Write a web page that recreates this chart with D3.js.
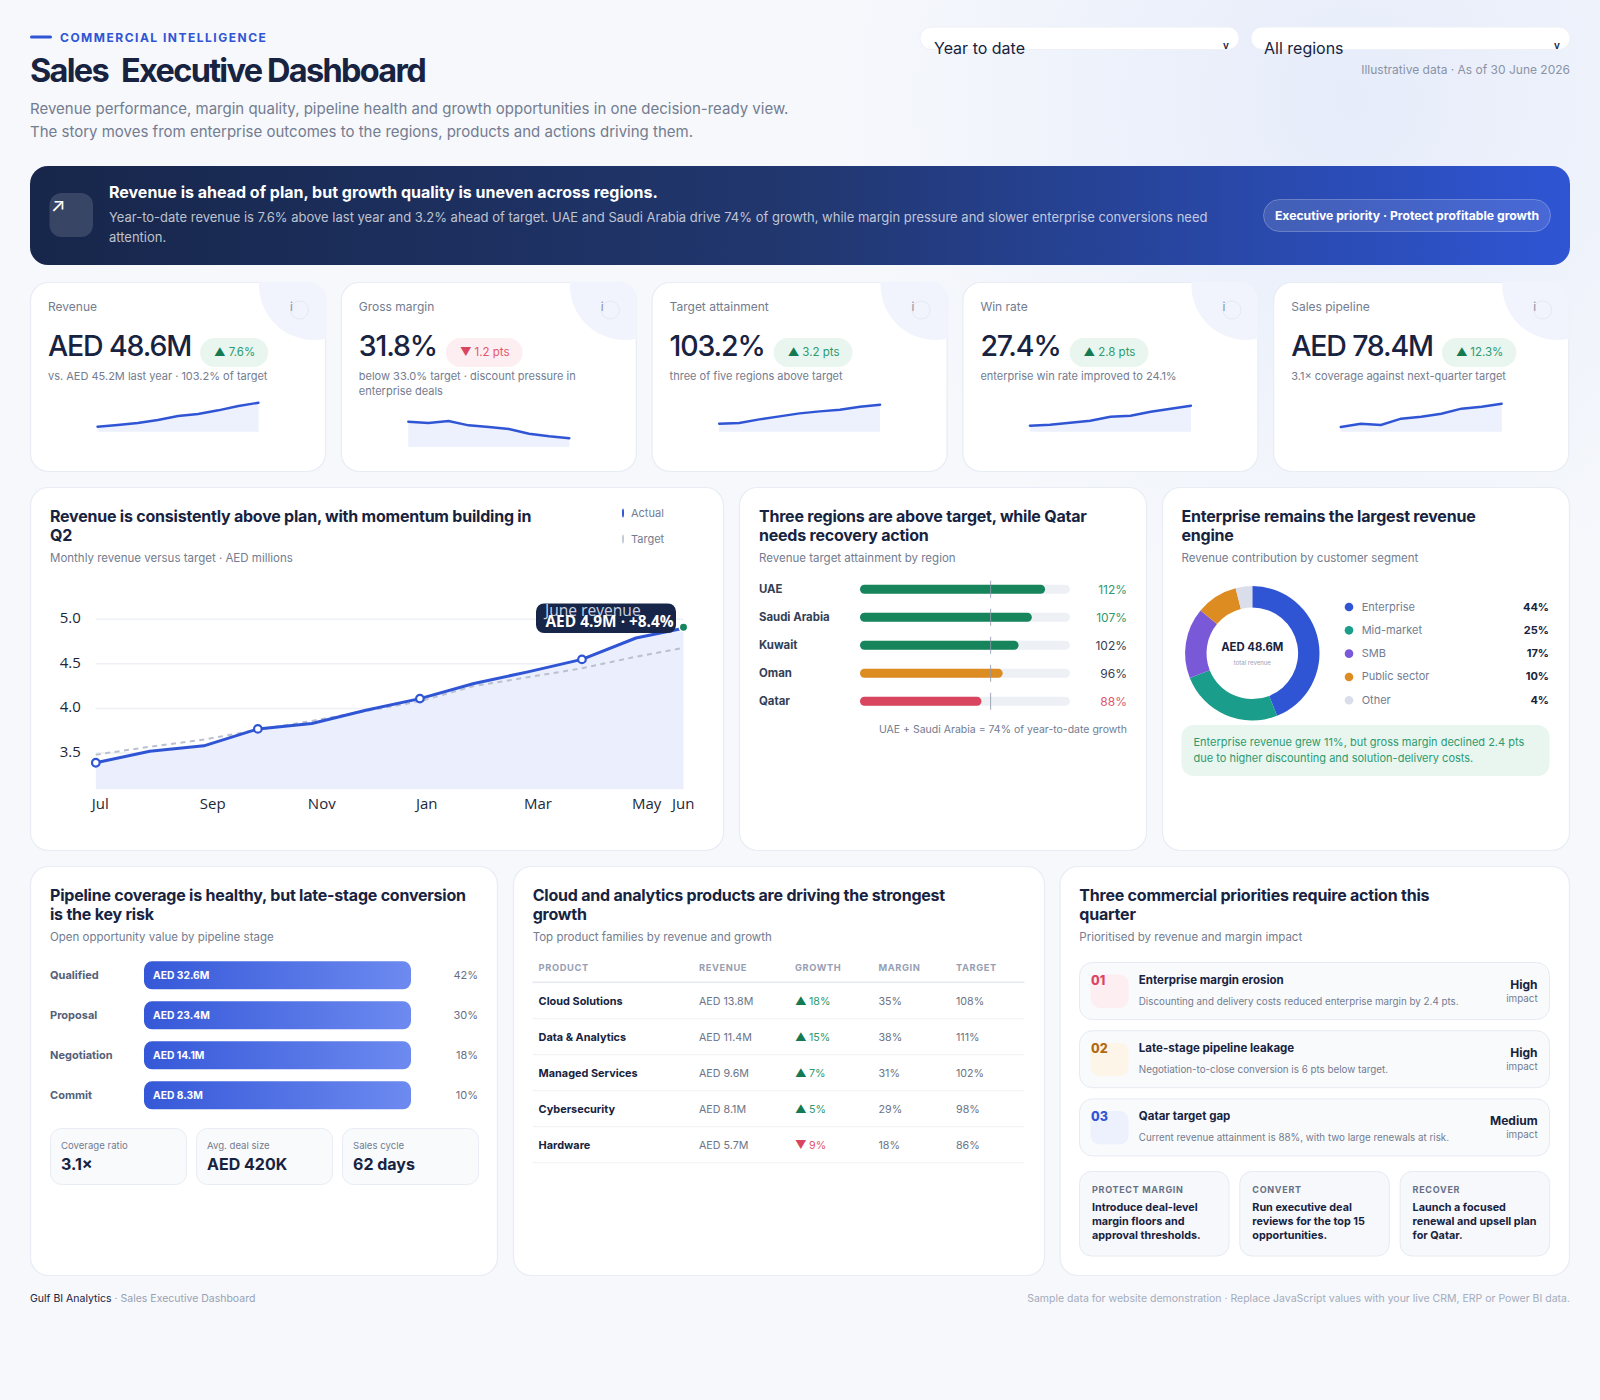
<!DOCTYPE html>
<html lang="en">
<head>
<meta charset="utf-8">
<title>Sales Executive Dashboard</title>
<script src="https://cdn.jsdelivr.net/npm/d3@7/dist/d3.min.js"></script>
<style>
  html, body { margin: 0; padding: 0; background: #f6f8fc; }
  svg { display: block; font-family: Inter, "Noto Sans", sans-serif; }
  text { dominant-baseline: central; }
</style>
</head>
<body>
<div id="dashboard"></div>
<script>
// ---- KPI cards ----
const kpiLabels = ["Revenue", "Gross margin", "Target attainment", "Win rate", "Sales pipeline"];
const kpiValues = ["AED 48.6M", "31.8%", "103.2%", "27.4%", "AED 78.4M"];
const kpiDeltas = ["7.6%", "1.2 pts", "3.2 pts", "2.8 pts", "12.3%"];
const kpiDirections = ["up", "down", "up", "up", "up"];
const kpiNotes = [
  ["vs. AED 45.2M last year · 103.2% of target"],
  ["below 33.0% target · discount pressure in", "enterprise deals"],
  ["three of five regions above target"],
  ["enterprise win rate improved to 24.1%"],
  ["3.1× coverage against next-quarter target"]
];
const sparkRevenue = [5, 6.7, 8.7, 11.7, 15.7, 17.7, 21.4, 25.7, 29];
const sparkMargin = [25.3, 24, 26, 21.7, 20, 18, 13.3, 10.7, 8.7];
const sparkTarget = [8, 8.7, 12.3, 15.3, 18.3, 20.3, 22, 25, 27];
const sparkWinRate = [6, 7, 9, 11, 15, 16, 20, 23, 26];
const sparkPipeline = [4.7, 8, 6.7, 13, 15, 18, 23, 25, 28];

// ---- Monthly revenue ----
const months = ["Jul", "Aug", "Sep", "Oct", "Nov", "Dec", "Jan", "Feb", "Mar", "Apr", "May", "Jun"];
const revenueActual = [3.39, 3.52, 3.58, 3.77, 3.83, 3.98, 4.11, 4.28, 4.41, 4.55, 4.79, 4.9];
const revenueTarget = [3.48, 3.57, 3.65, 3.76, 3.86, 3.97, 4.08, 4.25, 4.35, 4.45, 4.58, 4.68];
const revenueTicks = [3.5, 4.0, 4.5, 5.0];
const monthTicks = ["Jul", "Sep", "Nov", "Jan", "Mar", "May", "Jun"];
const markedMonths = ["Jul", "Oct", "Jan", "Apr"];

// ---- Regions ----
const regions = ["UAE", "Saudi Arabia", "Kuwait", "Oman", "Qatar"];
const regionAttainment = [112, 107, 102, 96, 88];

// ---- Customer segments ----
const segments = ["Enterprise", "Mid-market", "SMB", "Public sector", "Other"];
const segmentShares = [44, 25, 17, 10, 4];
const segmentColors = ["#2f55d4", "#1a9e8b", "#7a59d9", "#dd8c22", "#d9deea"];

// ---- Pipeline ----
const pipelineStages = ["Qualified", "Proposal", "Negotiation", "Commit"];
const pipelineValues = [32.6, 23.4, 14.1, 8.3];
const pipelineShares = [42, 30, 18, 10];
const pipelineStatLabels = ["Coverage ratio", "Avg. deal size", "Sales cycle"];
const pipelineStatValues = ["3.1×", "AED 420K", "62 days"];

// ---- Products ----
const productHeaders = ["PRODUCT", "REVENUE", "GROWTH", "MARGIN", "TARGET"];
const products = ["Cloud Solutions", "Data & Analytics", "Managed Services", "Cybersecurity", "Hardware"];
const productRevenue = [13.8, 11.4, 9.6, 8.1, 5.7];
const productGrowth = [18, 15, 7, 5, -9];
const productMargin = [35, 38, 31, 29, 18];
const productTarget = [108, 111, 102, 98, 86];

// ---- Priorities ----
const priorityTitles = ["Enterprise margin erosion", "Late-stage pipeline leakage", "Qatar target gap"];
const priorityDetails = [
  "Discounting and delivery costs reduced enterprise margin by 2.4 pts.",
  "Negotiation-to-close conversion is 6 pts below target.",
  "Current revenue attainment is 88%, with two large renewals at risk."
];
const priorityImpact = ["High", "High", "Medium"];
const actionHeads = ["PROTECT MARGIN", "CONVERT", "RECOVER"];
const actionLines = [
  ["Introduce deal-level", "margin floors and", "approval thresholds."],
  ["Run executive deal", "reviews for the top 15", "opportunities."],
  ["Launch a focused", "renewal and upsell plan", "for Qatar."]
];

// ---- Palette ----
const INK = "#172340", MUTED = "#737c90", BLUE = "#2f55d4", GREEN = "#17855c", RED = "#d9455f",
      AMBER = "#dd8c22", LINE = "#e8ecf4", SOFT = "#f9fafc";

const svg = d3.select("#dashboard").append("svg").attr("width", 1600).attr("height", 1400);
const defs = svg.append("defs");

const wash = defs.append("radialGradient").attr("id", "wash").attr("gradientUnits", "userSpaceOnUse")
  .attr("cx", 1350).attr("cy", 100).attr("r", 500);
wash.append("stop").attr("offset", 0).attr("stop-color", "#e6ecfa");
wash.append("stop").attr("offset", 1).attr("stop-color", "#f6f8fc");

const banner = defs.append("linearGradient").attr("id", "bannerFill");
banner.append("stop").attr("offset", 0).attr("stop-color", "#17264a");
banner.append("stop").attr("offset", 0.5).attr("stop-color", "#21376f");
banner.append("stop").attr("offset", 1).attr("stop-color", "#2f55d4");

const pipe = defs.append("linearGradient").attr("id", "pipeFill");
pipe.append("stop").attr("offset", 0).attr("stop-color", "#3558d8");
pipe.append("stop").attr("offset", 1).attr("stop-color", "#6d8af0");

svg.append("rect").attr("width", 1600).attr("height", 1400).attr("fill", "#f6f8fc");
svg.append("rect").attr("width", 1600).attr("height", 1400).attr("fill", "url(#wash)");

// Small drawing helpers: a text node and a rounded box.
function label(g, x, y, str, o = {}) {
  return g.append("text").attr("x", x).attr("y", y - 0.5).text(str)
    .attr("font-size", o.size || 12)
    .attr("font-weight", o.weight || 400)
    .attr("fill", o.fill || MUTED)
    .attr("text-anchor", o.anchor || "start")
    .attr("letter-spacing", o.spacing || null)
    .attr("font-family", o.family || null);
}
function box(g, x, y, w, h, r, fill, stroke) {
  return g.append("rect").attr("x", x).attr("y", y).attr("width", w).attr("height", h).attr("rx", r)
    .attr("fill", fill).attr("stroke", stroke || "none");
}
function panel(x, y, w, h) {
  const g = svg.append("g");
  box(g, x + 0.5, y + 0.5, w - 1, h - 1, 18, "#fff", LINE).attr("stroke-width", 1.2);
  return g;
}
function heading(g, x, lines, sub, topY) {
  lines.forEach((t, i) => label(g, x, topY + i * 19.3, t, { size: 16, weight: 650, fill: INK, spacing: -0.22 }));
  label(g, x, topY + 42, sub, { size: 11.5 });
}

// ---- Header ----
box(svg, 30, 35.5, 22, 3, 1.5, BLUE);
label(svg, 60, 37.5, "COMMERCIAL INTELLIGENCE", { size: 12, weight: 700, fill: BLUE, spacing: 1.5 });
["Sales", "Executive", "Dashboard"].forEach((word, i) =>
  label(svg, [30, 121, 267][i], 70.5, word, { size: 32.5, weight: 700, fill: INK, spacing: -1.7 }));
label(svg, 30, 109, "Revenue performance, margin quality, pipeline health and growth opportunities in one decision-ready view.", { size: 15 });
label(svg, 30, 132, "The story moves from enterprise outcomes to the regions, products and actions driving them.", { size: 15 });

[[920, 934, "Year to date"], [1251, 1264, "All regions"]].forEach(([x, tx, t]) => {
  box(svg, x, 27, 319, 22.5, 11, "#fff", "#edf0f7");
  label(svg, tx, 48, t, { size: 16, fill: INK });
  label(svg, x + 306, 45, "v", { size: 10, weight: 600, fill: INK, anchor: "middle" });
});
label(svg, 1570, 69.5, "Illustrative data · As of 30 June 2026", { size: 12, fill: "#8a93a6", anchor: "end" });

// ---- Headline banner ----
box(svg, 30, 166, 1540, 99, 18, "url(#bannerFill)");
box(svg, 49.5, 193, 43.5, 44, 12, "rgba(255,255,255,0.14)");
label(svg, 58, 206, "↗", { size: 19, fill: "#fff", anchor: "middle" });
label(svg, 109, 192, "Revenue is ahead of plan, but growth quality is uneven across regions.", { size: 16, weight: 700, fill: "#fff" });
label(svg, 109, 217, "Year-to-date revenue is 7.6% above last year and 3.2% ahead of target. UAE and Saudi Arabia drive 74% of growth, while margin pressure and slower enterprise conversions need", { size: 13, fill: "rgba(255,255,255,0.72)" });
label(svg, 109, 237.5, "attention.", { size: 13, fill: "rgba(255,255,255,0.72)" });
box(svg, 1263.5, 199.5, 287, 32, 16, "rgba(255,255,255,0.12)", "rgba(255,255,255,0.26)");
label(svg, 1407, 215.5, "Executive priority · Protect profitable growth", { size: 12.2, weight: 700, fill: "#fff", anchor: "middle" });

// ---- KPI cards ----
const sparks = [sparkRevenue, sparkMargin, sparkTarget, sparkWinRate, sparkPipeline];
const cardW = 296, cardStep = 310.8;
kpiLabels.forEach((name, i) => {
  const cx = 30 + i * cardStep, cy = 282;
  const clipId = `kpi-clip-${i}`;
  defs.append("clipPath").attr("id", clipId).append("rect")
    .attr("x", cx).attr("y", cy).attr("width", cardW).attr("height", 190).attr("rx", 18);
  const g = panel(cx, cy, cardW, 190);
  g.append("circle").attr("cx", cx + 284).attr("cy", cy + 3).attr("r", 55)
    .attr("fill", "#f1f4fd").attr("clip-path", `url(#${clipId})`);
  g.append("circle").attr("cx", cx + 269.5).attr("cy", cy + 28).attr("r", 9)
    .attr("fill", "none").attr("stroke", "#e6e9f3");
  label(g, cx + 260, cy + 25, "i", { size: 12, fill: "#8a93a6" });
  label(g, cx + 18, cy + 25, name, { size: 12 });

  const value = label(g, cx + 18, cy + 64, kpiValues[i], { size: 28.5, weight: 450, fill: INK, spacing: -1.15 });
  const right = cx + 18 + value.node().getComputedTextLength();
  const up = kpiDirections[i] === "up";
  const badge = box(g, right + 9, cy + 56, 60, 29, 14.5, up ? "#e9f6ef" : "#fdeef1");
  const delta = g.append("text").attr("y", cy + 70).attr("font-size", 11.5);
  delta.append("tspan").attr("fill", up ? "#137a52" : RED).text(up ? "▲" : "▼");
  delta.append("tspan").attr("fill", up ? "#2d9a70" : "#e2566f").attr("dx", 3).text(kpiDeltas[i]);
  const deltaW = delta.node().getComputedTextLength() + 3;
  badge.attr("width", deltaW + 27);
  delta.attr("x", right + 23);

  kpiNotes[i].forEach((t, k) => label(g, cx + 18, cy + 94 + k * 15.5, t, { size: 11 }));

  // Sparkline sits lower when the note wraps onto a second line.
  const base = cy + (kpiNotes[i].length > 1 ? 165 : 149.7);
  const sx = d3.scaleLinear().domain([0, sparks[i].length - 1]).range([cx + 67.5, cx + 228.5]);
  const sy = d3.scaleLinear().domain([0, 30]).range([base, base - 30]);
  g.append("path").datum(sparks[i]).attr("fill", "#edf0fd")
    .attr("d", d3.area().x((d, k) => sx(k)).y0(base).y1(d => sy(d)));
  g.append("path").datum(sparks[i]).attr("fill", "none").attr("stroke", BLUE).attr("stroke-width", 2.4)
    .attr("stroke-linecap", "round")
    .attr("d", d3.line().x((d, k) => sx(k)).y(d => sy(d)));
});

// ---- Monthly revenue line chart ----
{
  const g = panel(30, 487, 694, 364);
  heading(g, 50, ["Revenue is consistently above plan, with momentum building in", "Q2"],
    "Monthly revenue versus target · AED millions", 516);

  g.append("ellipse").attr("cx", 623).attr("cy", 513).attr("rx", 1).attr("ry", 4.5).attr("fill", BLUE);
  label(g, 631, 513, "Actual", { size: 11 });
  g.append("ellipse").attr("cx", 623).attr("cy", 539).attr("rx", 1).attr("ry", 4.5).attr("fill", "#c3c9d6");
  label(g, 631, 539, "Target", { size: 11 });

  // Months step evenly; the last one is held at the plot's right edge.
  const x = d3.scaleLinear().domain([0, 10.88]).range([95.8, 683.5]).clamp(true);
  const y = d3.scaleLinear().domain([3.092, 5]).range([789.3, 619.3]);
  const floor = y.range()[0];
  const tickFont = "'Open Sans', sans-serif";

  g.append("g").selectAll("line").data(revenueTicks).join("line")
    .attr("x1", x.range()[0]).attr("x2", x.range()[1])
    .attr("y1", d => y(d)).attr("y2", d => y(d))
    .attr("stroke", "#edf0f4").attr("stroke-width", 1.5);

  g.append("path").datum(revenueActual).attr("fill", "#ebeffd")
    .attr("d", d3.area().x((d, i) => x(i)).y0(floor).y1(d => y(d)));
  g.append("path").datum(revenueTarget).attr("fill", "none").attr("stroke", "#b9c0cf")
    .attr("stroke-width", 2).attr("stroke-dasharray", "5 4.5")
    .attr("d", d3.line().x((d, i) => x(i)).y(d => y(d)));
  g.append("path").datum(revenueActual).attr("fill", "none").attr("stroke", BLUE).attr("stroke-width", 3)
    .attr("stroke-linejoin", "round")
    .attr("d", d3.line().x((d, i) => x(i)).y(d => y(d)));

  g.append("g").selectAll("circle").data(markedMonths).join("circle")
    .attr("cx", d => x(months.indexOf(d))).attr("cy", d => y(revenueActual[months.indexOf(d)])).attr("r", 3.8)
    .attr("fill", "#fff").attr("stroke", BLUE).attr("stroke-width", 2.2);
  g.append("circle").attr("cx", x(11)).attr("cy", y(revenueActual[11]) - 1).attr("r", 4.2)
    .attr("fill", GREEN).attr("stroke", "#fff").attr("stroke-width", 1.5);

  const yAxis = g.append("g").attr("transform", `translate(${x.range()[0]},0)`)
    .call(d3.axisLeft(y).tickValues(revenueTicks).tickFormat(d3.format(".1f")).tickSize(0).tickPadding(15));
  yAxis.select(".domain").remove();
  yAxis.selectAll("text").attr("font-size", 15).attr("font-family", tickFont).attr("fill", "#1e2738")
    .attr("dy", null).attr("transform", "translate(0,-2.5)");

  // Month labels hang from the tick, except the last, which ends just past the plot.
  const xAxis = g.append("g").attr("transform", `translate(0,${floor})`)
    .call(d3.axisBottom(x).tickValues(monthTicks.map(m => months.indexOf(m)))
      .tickFormat(i => months[i]).tickSize(0));
  xAxis.select(".domain").remove();
  xAxis.selectAll("text").attr("font-size", 15).attr("font-family", tickFont).attr("fill", "#1e2738")
    .attr("dy", null).attr("y", 13.5)
    .attr("text-anchor", i => i === 11 ? "end" : "start")
    .attr("x", i => i === 11 ? 10.5 : -4.5);

  box(g, 536, 603.5, 140, 29.5, 8, "#172648");
  label(g, 545, 610, "June revenue", { size: 15.6, fill: "#c9d1e2", family: tickFont });
  label(g, 545.5, 621.5, "AED 4.9M · +8.4%", { size: 15.4, weight: 700, fill: "#fff", family: tickFont });
}

// ---- Region attainment ----
{
  const g = panel(739, 487, 408, 364);
  heading(g, 759, ["Three regions are above target, while Qatar", "needs recovery action"],
    "Revenue target attainment by region", 516);
  const trackX = 860, trackW = 210;
  const x = d3.scaleLinear().domain([42.2, 121.4]).range([trackX, trackX + trackW]);
  const rowY = d3.scalePoint().domain(regions).range([589.3, 701.3]);
  const tone = v => v >= 100 ? GREEN : v >= 90 ? AMBER : RED;
  const valueTone = v => v >= 105 ? "#2d9a70" : v >= 90 ? "#344055" : "#e2566f";
  regions.forEach((r, i) => {
    const v = regionAttainment[i], cy = rowY(r);
    label(g, 759, cy + 0.5, r, { size: 11.4, weight: 650, fill: "#344055" });
    box(g, trackX, cy - 4.5, trackW, 9, 4.5, "#edf0f5");
    box(g, trackX, cy - 4.5, x(v) - trackX, 9, 4.5, tone(v));
    g.append("line").attr("x1", trackX + trackW * 0.622).attr("x2", trackX + trackW * 0.622)
      .attr("y1", cy - 8.5).attr("y2", cy + 8.5).attr("stroke", "#8f98aa").attr("stroke-opacity", 0.85);
    label(g, 1127, cy + 0.5, `${v}%`, { size: 12, fill: valueTone(v), anchor: "end" });
  });
  label(g, 1127, 729.5, "UAE + Saudi Arabia = 74% of year-to-date growth", { size: 10.5, anchor: "end" });
}

// ---- Segment donut ----
{
  const g = panel(1162, 487, 408, 364);
  heading(g, 1181.5, ["Enterprise remains the largest revenue", "engine"],
    "Revenue contribution by customer segment", 516);
  const pie = d3.pie().sort(null)(segmentShares);
  const arc = d3.arc().innerRadius(45.8).outerRadius(67.2);
  g.append("g").attr("transform", "translate(1252.3,653.3)")
    .selectAll("path").data(pie).join("path")
    .attr("d", arc).attr("fill", (d, i) => segmentColors[i]);
  label(g, 1252.3, 647.2, "AED 48.6M", { size: 11.3, weight: 700, fill: INK, anchor: "middle" });
  label(g, 1252.3, 663, "total revenue", { size: 6, fill: "#99a1b2", anchor: "middle" });
  const rowY = d3.scalePoint().domain(segments).range([607, 700.3]);
  segments.forEach((s, i) => {
    const cy = rowY(s);
    g.append("circle").attr("cx", 1349).attr("cy", cy).attr("r", 4.3).attr("fill", segmentColors[i]);
    label(g, 1361.7, cy, s, { size: 11 });
    label(g, 1549, cy, `${segmentShares[i]}%`, { size: 11, weight: 700, fill: INK, anchor: "end" });
  });
  box(g, 1181.5, 725, 368, 51, 12, "#e9f6ef");
  label(g, 1193.5, 742.3, "Enterprise revenue grew 11%, but gross margin declined 2.4 pts", { size: 11, fill: "#2d9a70" });
  label(g, 1193.5, 758.3, "due to higher discounting and solution-delivery costs.", { size: 11, fill: "#2d9a70" });
}

// ---- Pipeline stages ----
{
  const g = panel(30, 866, 468, 410);
  heading(g, 50, ["Pipeline coverage is healthy, but late-stage conversion", "is the key risk"],
    "Open opportunity value by pipeline stage", 895.5);
  // Every stage clears the scale's cap, so the bars run the full track width.
  const x = d3.scaleLinear().domain([0, 8]).range([0, 267]).clamp(true);
  const rowY = d3.scalePoint().domain(pipelineStages).range([975.3, 1095.3]);
  pipelineStages.forEach((s, i) => {
    const cy = rowY(s);
    label(g, 50, cy + 0.5, s, { size: 11, weight: 650, fill: "#556178" });
    box(g, 144, cy - 14, x(pipelineValues[i]), 28, 8, "url(#pipeFill)");
    label(g, 153, cy + 0.5, `AED ${pipelineValues[i].toFixed(1)}M`, { size: 10.3, weight: 700, fill: "#fff" });
    label(g, 478, cy + 0.5, `${pipelineShares[i]}%`, { size: 11, fill: "#667085", anchor: "end" });
  });
  pipelineStatLabels.forEach((s, i) => {
    const bx = 50 + i * 146;
    box(g, bx + 0.5, 1128.5, 136, 56, 11, SOFT, LINE);
    label(g, bx + 11, 1145.5, s, { size: 9.6 });
    label(g, bx + 11, 1164.5, pipelineStatValues[i], { size: 16, weight: 650, fill: INK });
  });
}

// ---- Product table ----
{
  const g = panel(513, 866, 532, 410);
  heading(g, 532.7, ["Cloud and analytics products are driving the strongest", "growth"],
    "Top product families by revenue and growth", 895.5);
  const cols = [538.6, 699, 795, 878.5, 956];
  productHeaders.forEach((h, i) => label(g, cols[i], 967.8, h, { size: 9.3, weight: 650, fill: "#97a0b3", spacing: 0.6 }));
  g.append("line").attr("x1", 532.7).attr("x2", 1024.5).attr("y1", 982.3).attr("y2", 982.3)
    .attr("stroke", "#e6e9f1").attr("stroke-width", 1.5);
  const rowY = d3.scalePoint().domain(products).range([1001, 1145]);
  products.forEach((p, i) => {
    const cy = rowY(p), g0 = productGrowth[i], up = g0 >= 0;
    label(g, cols[0], cy, p, { size: 10.9, weight: 700, fill: INK });
    label(g, cols[1], cy + 0.5, `AED ${productRevenue[i].toFixed(1)}M`, { size: 10.7, fill: "#6b7488" });
    label(g, cols[2], cy + 0.5, up ? "▲" : "▼", { size: 11.5, fill: up ? "#137a52" : RED });
    label(g, cols[2] + 14, cy + 0.5, `${Math.abs(g0)}%`, { size: 10.7, fill: up ? "#2d9a70" : "#e2566f" });
    label(g, cols[3], cy + 0.5, `${productMargin[i]}%`, { size: 10.7, fill: "#6b7488" });
    label(g, cols[4], cy + 0.5, `${productTarget[i]}%`, { size: 10.7, fill: "#6b7488" });
    g.append("line").attr("x1", 532.7).attr("x2", 1024.5).attr("y1", cy + 17.7).attr("y2", cy + 17.7)
      .attr("stroke", "#f2f4f8").attr("stroke-width", 1.2);
  });
}

// ---- Priorities ----
{
  const g = panel(1059.5, 866, 510.5, 410);
  heading(g, 1079.3, ["Three commercial priorities require action this", "quarter"],
    "Prioritised by revenue and margin impact", 895.5);
  const badgeFills = ["#fdeef1", "#fdf5e8", "#edf1fd"];
  const numberTones = [RED, "#b06a10", BLUE];
  priorityTitles.forEach((t, i) => {
    const top = 962.5 + i * 68.2;
    box(g, 1079.5, top, 470, 57, 13, SOFT, "#e6eaf2");
    box(g, 1090.6, top + 12, 38, 33.5, 9, badgeFills[i]);
    label(g, 1091, top + 18.5, d3.format("02")(i + 1), { size: 12.5, weight: 800, fill: numberTones[i] });
    label(g, 1138.8, top + 17.5, t, { size: 11.5, weight: 650, fill: INK });
    label(g, 1138.8, top + 39.3, priorityDetails[i], { size: 9.8 });
    label(g, 1537.6, top + 22.5, priorityImpact[i], { size: 12, weight: 650, fill: INK, anchor: "end" });
    label(g, 1537.6, top + 36, "impact", { size: 9.8, anchor: "end" });
  });
  actionHeads.forEach((h, i) => {
    const bx = 1079.5 + i * 160.3;
    box(g, bx, 1171.5, 149.5, 84.5, 12, "#f7f8fc", "#e6eaf2");
    label(g, bx + 12.5, 1189.5, h, { size: 9, weight: 700, fill: "#667085", spacing: 0.7 });
    actionLines[i].forEach((t, k) => label(g, bx + 12.5, 1207.5 + k * 14.4, t, { size: 10.8, weight: 650, fill: INK }));
  });
}

// ---- Footer ----
{
  const left = svg.append("text").attr("x", 30).attr("y", 1298).attr("font-size", 10.5);
  left.append("tspan").attr("fill", INK).text("Gulf BI Analytics");
  left.append("tspan").attr("fill", "#98a1b3").text(" · Sales Executive Dashboard");
  label(svg, 1570, 1298.5, "Sample data for website demonstration · Replace JavaScript values with your live CRM, ERP or Power BI data.", { size: 10.5, fill: "#a4acbb", anchor: "end" });
}
</script>
</body>
</html>
